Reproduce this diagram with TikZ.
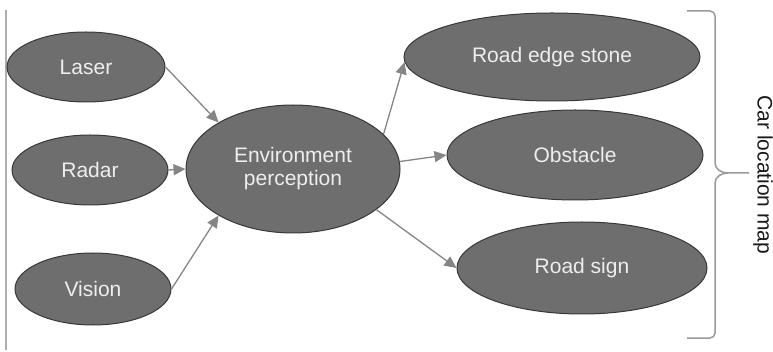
\documentclass[tikz,border=0pt]{standalone}
\usepackage{fontspec}
\setmainfont{Liberation Sans}
\usetikzlibrary{shapes.geometric,arrows.meta}
\definecolor{nodefill}{HTML}{6E6E6E}
\definecolor{nodeline}{HTML}{383838}
\definecolor{arrowcol}{HTML}{858585}
\definecolor{bracecol}{HTML}{9A9A9A}
\definecolor{txtcol}{HTML}{EEEEEE}
\begin{document}
\begin{tikzpicture}[x=1pt,y=-1pt,
  blob/.style={ellipse, fill=nodefill, draw=nodeline, line width=1pt, inner sep=0pt,
    text=txtcol, font=\fontsize{21}{23}\selectfont, align=center},
  conn/.style={draw=arrowcol, line width=1.3pt, -{Triangle[length=12pt,width=11pt]}}]
\useasboundingbox (0,0) rectangle (773,352);
\draw[bracecol!80, line width=1.5pt] (6,10) -- (6,350);
\node[blob, minimum width=158pt, minimum height=70pt] (laser) at (86,67) {Laser};
\node[blob, minimum width=156pt, minimum height=70pt] (radar) at (90,170) {Radar};
\node[blob, minimum width=156pt, minimum height=72pt] (vision) at (93,289) {Vision};
\node[blob, minimum width=214pt, minimum height=128pt] (env) at (293,169) {Environment\\perception};
\node[blob, minimum width=296pt, minimum height=88pt] (res) at (552,57) {Road edge stone};
\node[blob, minimum width=256pt, minimum height=90pt] (obs) at (575,155) {Obstacle};
\node[blob, minimum width=250pt, minimum height=92pt] (sign) at (582,268) {Road sign};
\draw[conn] (laser.east) -- (env.148);
\draw[conn] (radar.east) -- (env.west);
\draw[conn] (vision.east) -- (env.212);
\draw[conn] (env.21) -- (res.182);
\draw[conn] (env.4) -- (obs.west);
\draw[conn] (env.-26) -- (sign.west);
\draw[bracecol, line width=1.5pt] (687,11) -- (710,11) to[out=0,in=90] (715,16) -- (715,163)
  to[out=-90,in=180] (728,173) -- (749,173);
\draw[bracecol, line width=1.5pt] (728,173) to[out=180,in=90] (715,183) -- (715,333)
  to[out=-90,in=0] (710,338) -- (687,338);
\node[rotate=-90, font=\fontsize{21}{23}\selectfont, text=black!90] (maplabel) at (763,175) {Car location map};
\end{tikzpicture}
\end{document}
